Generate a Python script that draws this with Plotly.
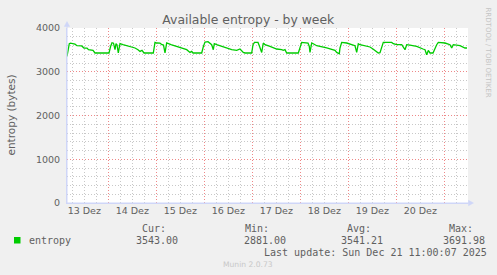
import plotly.graph_objects as go

# ---------------- data ----------------
times = [
    "2025-12-13 03:21", "2025-12-13 04:30", "2025-12-13 05:06", "2025-12-13 07:21", "2025-12-13 08:21",
    "2025-12-13 10:42", "2025-12-13 11:51", "2025-12-13 13:21", "2025-12-13 14:06", "2025-12-13 15:51",
    "2025-12-13 16:21", "2025-12-13 17:21", "2025-12-14 00:21", "2025-12-14 01:06", "2025-12-14 01:51",
    "2025-12-14 02:36", "2025-12-14 03:21", "2025-12-14 03:51", "2025-12-14 04:21", "2025-12-14 05:00",
    "2025-12-14 05:51", "2025-12-14 07:21", "2025-12-14 10:51", "2025-12-14 13:21", "2025-12-14 14:51",
    "2025-12-14 15:51", "2025-12-14 16:51", "2025-12-14 17:51", "2025-12-14 22:30", "2025-12-14 23:21",
    "2025-12-15 00:21", "2025-12-15 01:51", "2025-12-15 02:51", "2025-12-15 03:36", "2025-12-15 04:21",
    "2025-12-15 05:12", "2025-12-15 07:21", "2025-12-15 10:12", "2025-12-15 13:30", "2025-12-15 15:12",
    "2025-12-15 16:51", "2025-12-15 17:42", "2025-12-15 18:21", "2025-12-15 22:42", "2025-12-15 23:30",
    "2025-12-16 00:21", "2025-12-16 01:51", "2025-12-16 03:42", "2025-12-16 04:30", "2025-12-16 05:00",
    "2025-12-16 06:12", "2025-12-16 07:51", "2025-12-16 11:12", "2025-12-16 13:42", "2025-12-16 16:12",
    "2025-12-16 17:51", "2025-12-16 19:30", "2025-12-16 20:21", "2025-12-16 23:42", "2025-12-17 00:21",
    "2025-12-17 01:06", "2025-12-17 02:51", "2025-12-17 03:30", "2025-12-17 04:42", "2025-12-17 05:30",
    "2025-12-17 06:21", "2025-12-17 08:51", "2025-12-17 12:12", "2025-12-17 14:42", "2025-12-17 15:30",
    "2025-12-17 16:21", "2025-12-17 17:12", "2025-12-17 23:00", "2025-12-17 23:51", "2025-12-18 00:42",
    "2025-12-18 03:51", "2025-12-18 04:30", "2025-12-18 04:51", "2025-12-18 05:42", "2025-12-18 06:30",
    "2025-12-18 08:12", "2025-12-18 13:12", "2025-12-18 14:51", "2025-12-18 17:21", "2025-12-18 18:12",
    "2025-12-18 19:30", "2025-12-18 19:51", "2025-12-18 20:42", "2025-12-18 23:12", "2025-12-19 00:51",
    "2025-12-19 03:21", "2025-12-19 04:12", "2025-12-19 05:00", "2025-12-19 05:51", "2025-12-19 10:51",
    "2025-12-19 12:21", "2025-12-19 14:12", "2025-12-19 15:00", "2025-12-19 15:51", "2025-12-19 16:42",
    "2025-12-19 17:30", "2025-12-19 21:42", "2025-12-19 22:30", "2025-12-20 00:12", "2025-12-20 02:42",
    "2025-12-20 04:21", "2025-12-20 05:12", "2025-12-20 06:51", "2025-12-20 10:12", "2025-12-20 13:21",
    "2025-12-20 14:21", "2025-12-20 15:12", "2025-12-20 16:00", "2025-12-20 16:51", "2025-12-20 18:21",
    "2025-12-20 20:12", "2025-12-20 21:00", "2025-12-21 00:21", "2025-12-21 01:12", "2025-12-21 02:51",
    "2025-12-21 03:42", "2025-12-21 04:30", "2025-12-21 07:51", "2025-12-21 10:21", "2025-12-21 11:21",
]
entropy = [
    3351, 3641, 3653, 3630, 3595,
    3590, 3543, 3540, 3504, 3497,
    3488, 3429, 3429, 3572, 3664,
    3653, 3504, 3641, 3618, 3429,
    3641, 3618, 3579, 3543, 3504,
    3465, 3488, 3429, 3429, 3671,
    3657, 3653, 3618, 3610, 3429,
    3657, 3618, 3579, 3543, 3504,
    3442, 3465, 3429, 3429, 3572,
    3680, 3687, 3618, 3504, 3641,
    3618, 3595, 3543, 3504, 3488,
    3520, 3442, 3429, 3429, 3618,
    3671, 3671, 3595, 3442, 3657,
    3618, 3579, 3520, 3504, 3488,
    3504, 3429, 3429, 3579, 3671,
    3657, 3579, 3442, 3657, 3641,
    3595, 3543, 3520, 3488, 3442,
    3412, 3543, 3671, 3657, 3630,
    3595, 3442, 3641, 3618, 3566,
    3520, 3442, 3429, 3436, 3543,
    3671, 3671, 3641, 3618, 3618,
    3504, 3618, 3607, 3580, 3520,
    3504, 3390, 3488, 3429, 3429,
    3618, 3671, 3657, 3641, 3618,
    3543, 3618, 3595, 3543, 3543,
]

x_range = ["2025-12-13 03:21", "2025-12-21 11:51"]
day_lines = ["2025-12-%02d 00:00" % d for d in range(14, 22)]
label_pos = ["2025-12-%02d 12:00" % d for d in range(13, 21)]
label_text = ["%d Dez" % d for d in range(13, 21)]
y_ticks = [0, 1000, 2000, 3000, 4000]

stats_head = ["Cur:", "Min:", "Avg:", "Max:"]
stats_vals = ["3543.00", "2881.00", "3541.21", "3691.98"]

# ---------------- geometry helpers (pixel -> paper) ----------------
W, H = 497, 275
L, R, T, B = 67, 468, 28, 203
PW, PH = R - L, B - T


def px(x):
    return (x - L) / PW


def py(y):
    return (B - y) / PH


FONT = "DejaVu Sans"
MONO = "DejaVu Sans Mono"
TXT = "#606060"
AXIS_COL = "#CFD6F8"
MINOR = "#C8C8C8"
MAJOR = "#EE8888"
DASH = "1px,2px"

fig = go.Figure()
fig.add_trace(go.Scatter(
    x=times, y=entropy, mode="lines",
    line=dict(color="#00CC00", width=1.3),
    showlegend=False, hoverinfo="skip",
))
# empty trace so the label axis is drawn
fig.add_trace(go.Scatter(x=[], y=[], xaxis="x2", yaxis="y", showlegend=False, hoverinfo="skip"))

fig.update_layout(
    width=W, height=H,
    margin=dict(l=L, r=W - R, t=T, b=H - B),
    paper_bgcolor="#F0F0F0", plot_bgcolor="#FFFFFF",
    showlegend=False,
    title=dict(text="Available entropy - by week", x=248.3 / W, xanchor="center",
               y=1 - 19.5 / H, yanchor="middle",
               font=dict(family=FONT, size=12.4, color=TXT)),
    xaxis=dict(
        type="date", range=x_range, tickmode="array", tickvals=day_lines,
        showticklabels=False, ticks="", showgrid=True, gridcolor=MAJOR, griddash=DASH,
        gridwidth=1, zeroline=False, showline=True, linecolor=AXIS_COL, linewidth=1,
        minor=dict(tickmode="linear", tick0="2025-12-13", dtick=6 * 3600 * 1000,
                   showgrid=True, gridcolor=MINOR, griddash=DASH, gridwidth=1, ticks=""),
        fixedrange=True,
    ),
    xaxis2=dict(
        type="date", range=x_range, overlaying="x", anchor="y", side="bottom",
        tickmode="array", tickvals=label_pos, ticktext=label_text,
        showgrid=False, ticks="", zeroline=False, showline=False,
        tickfont=dict(family=FONT, size=9.5, color=TXT),
        fixedrange=True,
    ),
    yaxis=dict(
        range=[0, 4000], tickmode="array", tickvals=y_ticks, ticks="",
        ticklabelstandoff=4,
        showgrid=True, gridcolor=MAJOR, griddash=DASH, gridwidth=1,
        zeroline=False, showline=True, linecolor=AXIS_COL, linewidth=1,
        minor=dict(tickmode="linear", tick0=0, dtick=200, showgrid=True,
                   gridcolor=MINOR, griddash=DASH, gridwidth=1, ticks=""),
        tickfont=dict(family=FONT, size=9.5, color=TXT),
        fixedrange=True,
    ),
)

# axis arrows (decoration)
shapes = [
    dict(type="line", xref="paper", yref="paper", x0=px(67), y0=py(203), x1=px(67), y1=py(25),
         line=dict(color=AXIS_COL, width=1)),
    dict(type="path", xref="paper", yref="paper",
         path="M %f %f L %f %f L %f %f Z" % (px(64.3), py(26.5), px(67), py(21.5), px(69.7), py(26.5)),
         fillcolor=AXIS_COL, line=dict(color=AXIS_COL, width=0.5)),
    dict(type="line", xref="paper", yref="paper", x0=px(67), y0=py(203), x1=px(470), y1=py(203),
         line=dict(color=AXIS_COL, width=1)),
    dict(type="path", xref="paper", yref="paper",
         path="M %f %f L %f %f L %f %f Z" % (px(468.5), py(200.3), px(473.5), py(203), px(468.5), py(205.7)),
         fillcolor=AXIS_COL, line=dict(color=AXIS_COL, width=0.5)),
    # legend colour box
    dict(type="rect", xref="paper", yref="paper", x0=px(14), y0=py(243.5), x1=px(20.5), y1=py(237),
         fillcolor="#00CC00", line=dict(color="#00CC00", width=0)),
]
fig.update_layout(shapes=shapes)

ann = []


def text(x, y, s, size, family=FONT, color=TXT, xanchor="left", angle=0):
    ann.append(dict(xref="paper", yref="paper", x=px(x), y=py(y), text=s, showarrow=False,
                    xanchor=xanchor, yanchor="middle", textangle=angle,
                    font=dict(family=family, size=size, color=color)))


text(10, 115.5, "entropy (bytes)", 10.5, xanchor="center", angle=-90)
text(487.5, 52, "RRDTOOL / TOBI OETIKER", 7, color="#C4C4C4", xanchor="center", angle=90)

text(26.5, 240, "entropy", 10, family=MONO)
head_x = [140, 243, 345, 446.7]
val_x = [134, 241.7, 339, 441]
for hx, h in zip(head_x, stats_head):
    text(hx, 228, h, 10, family=MONO)
for vx, v in zip(val_x, stats_vals):
    text(vx, 240, v, 10, family=MONO)
text(261.7, 252, "Last update: Sun Dec 21 11:00:07 2025", 10, family=MONO)
text(248, 264.3, "Munin 2.0.73", 7.6, color="#C8C8C8", xanchor="center")

fig.update_layout(annotations=ann)
fig.write_html("out.html")
